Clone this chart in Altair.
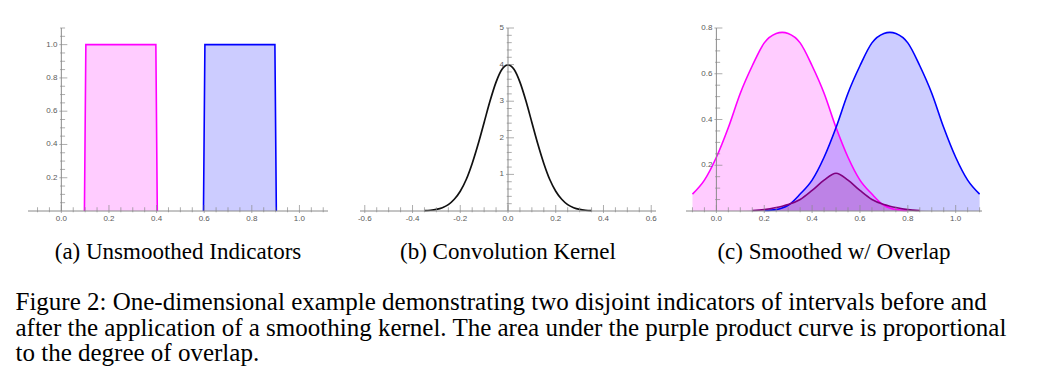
import altair as alt
import pandas as pd

# ---------------- Panel (a): unsmoothed indicators ----------------
a_pink_x = [0.097, 0.103, 0.397, 0.403]
a_pink_y = [0.0, 1.0, 1.0, 0.0]
a_blue_x = [0.597, 0.603, 0.897, 0.903]
a_blue_y = [0.0, 1.0, 1.0, 0.0]

# ---------------- Panel (b): convolution kernel ----------------
b_x = [-0.35, -0.325, -0.3, -0.275, -0.25, -0.225, -0.2, -0.175, -0.15, -0.125,
       -0.1, -0.075, -0.05, -0.025, 0.0, 0.025, 0.05, 0.075, 0.1, 0.125, 0.15,
       0.175, 0.2, 0.225, 0.25, 0.275, 0.3, 0.325, 0.35]
b_y = [0.009, 0.020, 0.044, 0.091, 0.175, 0.32, 0.54, 0.86, 1.30, 1.83,
       2.42, 3.01, 3.52, 3.87, 3.99, 3.87, 3.52, 3.01, 2.42, 1.83, 1.30,
       0.86, 0.54, 0.32, 0.175, 0.091, 0.044, 0.020, 0.009]

# ---------------- Panel (c): smoothed with overlap ----------------
c_x = [-0.1, -0.05, 0.0, 0.05, 0.1, 0.15, 0.2, 0.25, 0.275, 0.3, 0.35, 0.4, 0.45,
       0.5, 0.55, 0.6, 0.65, 0.7, 0.725, 0.75, 0.8, 0.85, 0.9, 0.95, 1.0, 1.05, 1.1]
c_pink = [0.074, 0.135, 0.235, 0.365, 0.515, 0.635, 0.735, 0.776, 0.781, 0.776,
          0.735, 0.635, 0.515, 0.365, 0.235, 0.135, 0.074, 0.025, 0.013, 0.006,
          0.002, 0.001, 0.0, 0.0, 0.0, 0.0, 0.0]
c_blue = [0.0, 0.0, 0.0, 0.0, 0.0, 0.001, 0.002, 0.006, 0.013, 0.025, 0.074,
          0.135, 0.235, 0.365, 0.515, 0.635, 0.735, 0.776, 0.781, 0.776, 0.735,
          0.635, 0.515, 0.365, 0.235, 0.135, 0.074]
c_purple = [0.0, 0.0, 0.0, 0.0, 0.0, 0.002, 0.006, 0.015, 0.021, 0.028, 0.05,
            0.09, 0.135, 0.165, 0.135, 0.09, 0.05, 0.028, 0.021, 0.015, 0.006,
            0.002, 0.0, 0.0, 0.0, 0.0, 0.0]

# ---------------- Tick labels ----------------
a_xticks = [0.0, 0.2, 0.4, 0.6, 0.8, 1.0]
a_xlabels = ["0.0", "0.2", "0.4", "0.6", "0.8", "1.0"]
a_yticks = [0.2, 0.4, 0.6, 0.8, 1.0]
a_ylabels = ["0.2", "0.4", "0.6", "0.8", "1.0"]
b_xticks = [-0.6, -0.4, -0.2, 0.0, 0.2, 0.4, 0.6]
b_xlabels = ["-0.6", "-0.4", "-0.2", "0.0", "0.2", "0.4", "0.6"]
b_yticks = [1, 2, 3, 4, 5]
b_ylabels = ["1", "2", "3", "4", "5"]
c_xticks = [0.0, 0.2, 0.4, 0.6, 0.8, 1.0]
c_xlabels = ["0.0", "0.2", "0.4", "0.6", "0.8", "1.0"]
c_yticks = [0.2, 0.4, 0.6, 0.8]
c_ylabels = ["0.2", "0.4", "0.6", "0.8"]

subcaptions = ["(a) Unsmoothed Indicators", "(b) Convolution Kernel", "(c) Smoothed w/ Overlap"]
caption = [
    "Figure 2:  One-dimensional example demonstrating two disjoint indicators of intervals before and",
    "after the application of a smoothing kernel. The area under the purple product curve is proportional",
    "to the degree of overlap.",
]

MAGENTA = "#ff00ff"
BLUE = "#0000ff"
PURPLE = "#800080"
AXIS = "#8a8a8a"
LABEL = "#5a5a5a"
TICKFONT = "Liberation Sans"
SERIF = "Liberation Serif"


def minor(lo, hi, step, majors):
    n = int(round((hi - lo) / step))
    vals = [round(lo + i * step, 4) for i in range(n + 1)]
    return [v for v in vals if all(abs(v - m) > 1e-6 for m in majors) and abs(v) > 1e-6]


def axes_layers(xs, ys, xdom, ydom, xt, xl, xm, yt, yl, ym):
    X = lambda f: alt.X(f, scale=xs, axis=None)
    Y = lambda f: alt.Y(f, scale=ys, axis=None)
    hline = alt.Chart(pd.DataFrame({"x0": [xdom[0]], "x1": [xdom[1]], "y": [0.0]})).mark_rule(
        color=AXIS, strokeWidth=1).encode(x=X("x0:Q"), x2="x1:Q", y=Y("y:Q"))
    vline = alt.Chart(pd.DataFrame({"x": [0.0], "y0": [ydom[0]], "y1": [ydom[1]]})).mark_rule(
        color=AXIS, strokeWidth=1).encode(x=X("x:Q"), y=Y("y0:Q"), y2="y1:Q")
    xmaj = alt.Chart(pd.DataFrame({"t": xt, "z": [0.0] * len(xt), "lab": xl}))
    xmin = alt.Chart(pd.DataFrame({"t": xm, "z": [0.0] * len(xm)}))
    ymaj = alt.Chart(pd.DataFrame({"t": yt, "z": [0.0] * len(yt), "lab": yl}))
    ymin = alt.Chart(pd.DataFrame({"t": ym, "z": [0.0] * len(ym)}))
    layers = [
        hline, vline,
        xmaj.mark_tick(orient="vertical", size=8, thickness=1, color=AXIS, yOffset=-2).encode(x=X("t:Q"), y=Y("z:Q")),
        xmin.mark_tick(orient="vertical", size=5, thickness=1, color=AXIS, yOffset=-1.25).encode(x=X("t:Q"), y=Y("z:Q")),
        ymaj.mark_tick(orient="horizontal", size=8, thickness=1, color=AXIS, xOffset=2).encode(x=X("z:Q"), y=Y("t:Q")),
        ymin.mark_tick(orient="horizontal", size=5, thickness=1, color=AXIS, xOffset=1.25).encode(x=X("z:Q"), y=Y("t:Q")),
        xmaj.mark_text(baseline="top", dy=4, fontSize=8, color=LABEL, font=TICKFONT).encode(
            x=X("t:Q"), y=Y("z:Q"), text="lab:N"),
        ymaj.mark_text(align="right", baseline="middle", dx=-4, fontSize=8, color=LABEL, font=TICKFONT).encode(
            x=X("z:Q"), y=Y("t:Q"), text="lab:N"),
    ]
    return layers


def sub_title(text):
    return alt.TitleParams(text=text, orient="bottom", font=SERIF, fontSize=23, fontWeight="normal",
                           color="black", offset=18, anchor="middle")


# ---- Panel (a)
a_xdom, a_ydom = [-0.14, 1.12], [0.0, 1.1]
axs = alt.Scale(domain=a_xdom, nice=False, zero=False)
ays = alt.Scale(domain=a_ydom, nice=False, zero=False)
a_df_p = pd.DataFrame({"x": a_pink_x, "v": a_pink_y})
a_df_b = pd.DataFrame({"x": a_blue_x, "v": a_blue_y})
a_layers = []
for d, col in [(a_df_p, MAGENTA), (a_df_b, BLUE)]:
    base = alt.Chart(d).encode(x=alt.X("x:Q", scale=axs, axis=None),
                               y=alt.Y("v:Q", scale=ays, axis=None, stack=None))
    a_layers.append(base.mark_area(color=col, fillOpacity=0.2))
for d, col in [(a_df_p, MAGENTA), (a_df_b, BLUE)]:
    base = alt.Chart(d).encode(x=alt.X("x:Q", scale=axs, axis=None),
                               y=alt.Y("v:Q", scale=ays, axis=None))
    a_layers.append(base.mark_line(color=col, strokeWidth=1.6))
a_layers += axes_layers(axs, ays, a_xdom, a_ydom, a_xticks, a_xlabels,
                        minor(-0.1, 1.1, 0.05, a_xticks), a_yticks, a_ylabels,
                        minor(0.05, 1.1, 0.05, a_yticks))
panel_a = alt.layer(*a_layers).properties(width=300, height=183, title=sub_title(subcaptions[0]))

# ---- Panel (b)
b_xdom, b_ydom = [-0.62, 0.62], [0.0, 5.0]
bxs = alt.Scale(domain=b_xdom, nice=False, zero=False)
bys = alt.Scale(domain=b_ydom, nice=False, zero=False)
b_df = pd.DataFrame({"x": b_x, "v": b_y})
b_layers = [alt.Chart(b_df).mark_line(color="#111111", strokeWidth=1.7, interpolate="monotone").encode(
    x=alt.X("x:Q", scale=bxs, axis=None), y=alt.Y("v:Q", scale=bys, axis=None))]
b_layers += axes_layers(bxs, bys, b_xdom, b_ydom, b_xticks, b_xlabels,
                        minor(-0.6, 0.6, 0.05, b_xticks), b_yticks, b_ylabels,
                        minor(0.2, 5.0, 0.2, b_yticks))
panel_b = alt.layer(*b_layers).properties(width=296, height=183, title=sub_title(subcaptions[1]))

# ---- Panel (c)
c_xdom, c_ydom = [-0.127, 1.11], [0.0, 0.8]
cxs = alt.Scale(domain=c_xdom, nice=False, zero=False)
cys = alt.Scale(domain=c_ydom, nice=False, zero=False)
c_series = [(c_pink, MAGENTA), (c_blue, BLUE), (c_purple, PURPLE)]
c_layers = []
for vals, col in c_series:
    d = pd.DataFrame({"x": c_x, "v": vals})
    c_layers.append(alt.Chart(d).mark_area(color=col, fillOpacity=0.2, interpolate="monotone").encode(
        x=alt.X("x:Q", scale=cxs, axis=None), y=alt.Y("v:Q", scale=cys, axis=None, stack=None)))
for vals, col in c_series:
    d = pd.DataFrame({"x": c_x, "v": vals})
    c_layers.append(alt.Chart(d).transform_filter("datum.v > 0.0015").mark_line(
        color=col, strokeWidth=1.6, interpolate="monotone").encode(
        x=alt.X("x:Q", scale=cxs, axis=None), y=alt.Y("v:Q", scale=cys, axis=None)))
c_layers += axes_layers(cxs, cys, c_xdom, c_ydom, c_xticks, c_xlabels,
                        minor(-0.1, 1.1, 0.05, c_xticks), c_yticks, c_ylabels,
                        minor(0.05, 0.8, 0.05, c_yticks))
panel_c = alt.layer(*c_layers).properties(width=296, height=183, title=sub_title(subcaptions[2]))

chart = alt.hconcat(panel_a, panel_b, panel_c, spacing=28).properties(
    title=alt.TitleParams(text=caption, orient="bottom", anchor="start", font=SERIF, fontSize=25,
                          lineHeight=25.5, fontWeight="normal", color="black", offset=26, dx=-12),
    padding={"left": 7, "top": 16, "right": 5, "bottom": 5},
    background="white",
).configure_view(stroke=None)

chart.save("out.html", embed_options={"renderer": "svg", "actions": False})
